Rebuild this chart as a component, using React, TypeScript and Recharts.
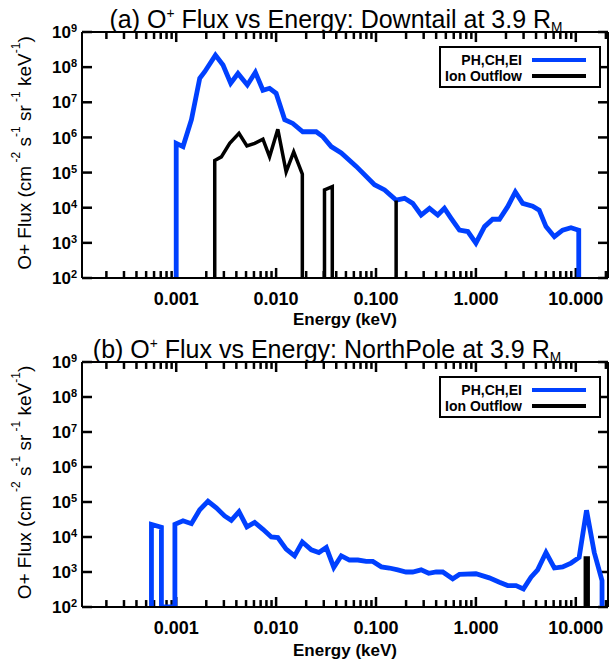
import { LineChart, Line, XAxis, YAxis, Legend, ReferenceLine } from 'recharts';

// ---------- DATA ----------

// (a) Downtail, PH,CH,EI
const downtailPhEnergy = [
  0.001, 0.001, 0.00117, 0.00142, 0.00172, 0.00193, 0.00247, 0.00294, 0.00351, 0.00415,
  0.00515, 0.0062, 0.00738, 0.0086, 0.01, 0.0122, 0.0147, 0.0185, 0.0252, 0.0294,
  0.0356, 0.0449, 0.0634, 0.0966, 0.122, 0.159, 0.193, 0.233, 0.283, 0.343,
  0.415, 0.484, 0.565, 0.684, 0.83, 1.0, 1.22, 1.47, 1.72, 2.08,
  2.48, 2.94, 3.7, 4.3, 5.03, 6.1, 7.38, 8.95, 10.7, 10.7
];
const downtailPhFlux = [
  100, 6.8e5, 5.5e5, 3.2e6, 4.8e7, 7.4e7, 2.2e8, 1.15e8, 3.5e7, 6.6e7,
  3.1e7, 7.1e7, 2.2e7, 2.5e7, 1.8e7, 3.2e6, 2.5e6, 1.45e6, 1.45e6, 1.05e6,
  5.5e5, 3.6e5, 1.5e5, 4.5e4, 3.2e4, 1.65e4, 1.85e4, 1.33e4, 6.2e3, 9.6e3,
  6.2e3, 9.6e3, 5.0e3, 2.3e3, 2.1e3, 980, 2.9e3, 4.7e3, 4.7e3, 1.07e4,
  2.8e4, 1.33e4, 1.1e4, 8.5e3, 2.9e3, 1.5e3, 2.3e3, 2.7e3, 2.3e3, 100
];

// (a) Downtail, Ion Outflow (null = gap)
const downtailOutflowEnergy = [
  0.00243, 0.00243, 0.00283, 0.00343, 0.00425, 0.0051, 0.0061, 0.00738, 0.0086, 0.0104,
  0.0126, 0.015, 0.0183, 0.0183, 0.025, 0.0305, 0.0305, 0.0365, 0.0365, 0.1,
  0.159, 0.159
];
const downtailOutflowFlux = [
  100, 2.2e5, 2.8e5, 6.8e5, 1.3e6, 5.7e5, 6.8e5, 8.9e5, 2.8e5, 1.7e6,
  1.05e5, 3.9e5, 9.1e4, 100, null, 100, 3.2e4, 4.0e4, 100, null,
  100, 1.6e4
];

// (b) NorthPole, PH,CH,EI
const northPhEnergy = [
  0.000565, 0.000565, 0.000711, 0.000711, 0.00097, 0.00097, 0.00117, 0.00142, 0.00172, 0.00208,
  0.00252, 0.00305, 0.00356, 0.00425, 0.0051, 0.0061, 0.00738, 0.00895, 0.0104, 0.0126,
  0.0153, 0.0183, 0.0225, 0.0268, 0.0318, 0.0378, 0.0449, 0.0543, 0.0658, 0.0798,
  0.0929, 0.113, 0.136, 0.165, 0.2, 0.233, 0.283, 0.337, 0.4, 0.466,
  0.586, 0.684, 1.0, 1.36, 1.72, 2.08, 2.52, 2.99, 3.56, 4.15,
  5.03, 6.1, 7.38, 8.95, 10.8, 12.8, 15.3, 18.3, 18.3
];
const northPhFlux = [
  100, 2.3e4, 1.9e4, 100, 100, 2.3e4, 2.9e4, 2.4e4, 6.0e4, 1.05e5,
  6.8e4, 4.0e4, 3.0e4, 5.3e4, 1.95e4, 2.6e4, 1.66e4, 1.0e4, 9.6e3, 4.5e3,
  2.9e3, 7.2e3, 4.3e3, 3.6e3, 5.0e3, 1.35e3, 2.9e3, 2.2e3, 2.2e3, 2.0e3,
  2.0e3, 1.4e3, 1.3e3, 1.15e3, 1.0e3, 1.0e3, 1.15e3, 920, 1.0e3, 1.0e3,
  640, 850, 890, 680, 510, 410, 410, 330, 710, 1.15e3,
  3.6e3, 1.3e3, 1.4e3, 1.8e3, 2.6e3, 5.8e4, 3.6e3, 570, 100
];

// (b) NorthPole, Ion Outflow
const northOutflowEnergy = [12.45, 12.45, 13.3, 13.3];
const northOutflowFlux = [100, 2.5e3, 2.5e3, 100];

const seriesNames = ['PH,CH,EI', 'Ion Outflow'];

// ---------- AXES ----------

const xTicks = [0.001, 0.01, 0.1, 1, 10];
const xMinorTicks = [0.0001, 0.001, 0.01, 0.1, 1, 10]
  .flatMap((d) => [2, 3, 4, 5, 6, 7, 8, 9].map((m) => m * d))
  .filter((v) => v > 0.000114 && v < 21);
const yTicks = [1e2, 1e3, 1e4, 1e5, 1e6, 1e7, 1e8, 1e9];

const X_DOMAIN: [number, number] = [0.000114, 21];
const Y_DOMAIN: [number, number] = [100, 1e9];

// inward tick lengths as log-scale factors (~10px major, ~7px minor)
const Y_MAJOR_LEN = 1.93;
const Y_MINOR_LEN = 1.58;
const X_MAJOR_LEN = 1.26;

const FONT = '"Liberation Sans", Arial, sans-serif';
const BLUE = '#0040ff';

const toRows = (energy: number[], flux: (number | null)[]) =>
  energy.map((e, i) => ({ energy: e, flux: flux[i] }));

// ---------- PIECES ----------

function EnergyLabel({ x, y, payload }: any) {
  return (
    <text x={x} y={y + 26.5} textAnchor="middle" fontFamily={FONT} fontWeight="bold" fontSize={18} fill="#000">
      {payload.value.toFixed(3)}
    </text>
  );
}

function PowerLabel({ x, y, payload }: any) {
  return (
    <text x={x - 5} y={y} textAnchor="end" fontFamily={FONT} fontWeight="bold" fontSize={17} fill="#000">
      <tspan dy="0.36em">10</tspan>
      <tspan dy="-0.55em" fontSize={11}>{Math.round(Math.log10(payload.value))}</tspan>
    </text>
  );
}

function FluxLabel({ viewBox }: any) {
  const cx = viewBox.x - 57;
  const cy = viewBox.y + viewBox.height / 2 - 2;
  return (
    <text
      x={cx}
      y={cy}
      transform={`rotate(-90, ${cx}, ${cy})`}
      textAnchor="middle"
      dominantBaseline="central"
      fontFamily={FONT}
      fontSize={19}
      fill="#000"
    >
      O+ Flux (cm
      <tspan dy={-8} fontSize={12}> -2</tspan>
      <tspan dy={8}>  s</tspan>
      <tspan dy={-8} fontSize={12}>-1</tspan>
      <tspan dy={8}>  sr</tspan>
      <tspan dy={-8} fontSize={12}> -1</tspan>
      <tspan dy={8}>  keV</tspan>
      <tspan dy={-8} fontSize={12}>-1</tspan>
      <tspan dy={8}>)</tspan>
    </text>
  );
}

function LegendBox({ payload }: any) {
  const items = [...(payload || [])].sort(
    (a: any, b: any) => seriesNames.indexOf(a.value) - seriesNames.indexOf(b.value)
  );
  return (
    <div
      style={{
        width: 162,
        height: 42,
        boxSizing: 'border-box',
        border: '2px solid #000',
        background: '#fff',
        padding: '4px 13px 0 0',
        fontFamily: FONT,
        fontWeight: 'bold',
        fontSize: 14
      }}
    >
      {items.map((entry: any) => (
        <div
          key={entry.value}
          style={{
            display: 'flex',
            alignItems: 'center',
            justifyContent: 'flex-end',
            height: 16
          }}
        >
          <span>{entry.value}</span>
          <span style={{ width: 54, height: 4, background: entry.color, marginLeft: 10 }} />
        </div>
      ))}
    </div>
  );
}

type PanelProps = {
  top: number;
  height: number;
  plotBottom: number;
  titleCenter: number;
  label: string;
  place: string;
  phData: { energy: number; flux: number | null }[];
  outflowData: { energy: number; flux: number | null }[];
  energyOffset: number;
};

const PLOT_TOP = 32;

function FluxPanel({
  top,
  height,
  plotBottom,
  titleCenter,
  label,
  place,
  phData,
  outflowData,
  energyOffset
}: PanelProps) {
  const axisStroke = { stroke: '#000', strokeWidth: 2 };
  const small = { fontSize: '0.55em', lineHeight: 0, position: 'relative' as const, verticalAlign: 'baseline' };
  const tickLine = { xAxisId: 'energy', yAxisId: 'flux', stroke: '#000', strokeWidth: 2.5, ifOverflow: 'visible' as const };

  const fluxAxis = {
    type: 'number' as const,
    scale: 'log' as const,
    domain: Y_DOMAIN,
    allowDataOverflow: true,
    ticks: yTicks,
    width: 1,
    tickSize: 0,
    tickMargin: 0,
    tickLine: false,
    interval: 0 as const,
    axisLine: axisStroke
  };

  const [yMin, yMax] = Y_DOMAIN;
  const [xMin, xMax] = X_DOMAIN;

  return (
    <div style={{ position: 'absolute', left: 0, top, width: 610, height }}>
      <div
        style={{
          position: 'absolute',
          left: titleCenter,
          top: 7,
          transform: 'translateX(-50%)',
          whiteSpace: 'nowrap',
          fontFamily: FONT,
          fontSize: 25,
          lineHeight: '25px',
          zIndex: 2
        }}
      >
        {label} O<span style={{ ...small, top: -10 }}>+</span> Flux vs Energy: {place} at 3.9 R
        <span style={{ ...small, top: 4 }}>M</span>
      </div>

      <LineChart
        width={610}
        height={height}
        margin={{ top: PLOT_TOP - 1, right: 1, bottom: height - plotBottom - 1, left: 81 }}
      >
        <XAxis
          xAxisId="energy"
          dataKey="energy"
          type="number"
          scale="log"
          domain={X_DOMAIN}
          allowDataOverflow
          ticks={xTicks}
          interval={0}
          height={1}
          tickSize={0}
          tickMargin={0}
          tickLine={false}
          axisLine={axisStroke}
          tick={<EnergyLabel />}
          label={{
            value: 'Energy (keV)',
            position: 'bottom',
            offset: energyOffset,
            fill: '#000',
            fontSize: 17,
            fontWeight: 'bold',
            fontFamily: FONT
          }}
        />
        <XAxis
          xAxisId="topEdge"
          orientation="top"
          type="number"
          scale="log"
          domain={X_DOMAIN}
          allowDataOverflow
          height={1}
          tick={false}
          tickLine={false}
          axisLine={axisStroke}
        />

        <YAxis {...fluxAxis} yAxisId="flux" tick={<PowerLabel />} label={<FluxLabel />} />
        <YAxis {...fluxAxis} yAxisId="right" orientation="right" tick={false} />

        {/* inward ticks on the bottom and top edges */}
        {xTicks.map((v) => (
          <ReferenceLine key={`xb${v}`} {...tickLine} segment={[{ x: v, y: yMin }, { x: v, y: yMin * Y_MAJOR_LEN }]} />
        ))}
        {xTicks.map((v) => (
          <ReferenceLine key={`xt${v}`} {...tickLine} segment={[{ x: v, y: yMax }, { x: v, y: yMax / Y_MAJOR_LEN }]} />
        ))}
        {xMinorTicks.map((v) => (
          <ReferenceLine key={`mb${v}`} {...tickLine} segment={[{ x: v, y: yMin }, { x: v, y: yMin * Y_MINOR_LEN }]} />
        ))}
        {xMinorTicks.map((v) => (
          <ReferenceLine key={`mt${v}`} {...tickLine} segment={[{ x: v, y: yMax }, { x: v, y: yMax / Y_MINOR_LEN }]} />
        ))}

        {/* inward ticks on the left and right edges */}
        {yTicks.map((v) => (
          <ReferenceLine key={`yl${v}`} {...tickLine} segment={[{ x: xMin, y: v }, { x: xMin * X_MAJOR_LEN, y: v }]} />
        ))}
        {yTicks.map((v) => (
          <ReferenceLine key={`yr${v}`} {...tickLine} segment={[{ x: xMax, y: v }, { x: xMax / X_MAJOR_LEN, y: v }]} />
        ))}

        <Legend
          content={<LegendBox />}
          layout="vertical"
          align="center"
          verticalAlign="middle"
          wrapperStyle={{ left: 439, top: 46, width: 162, height: 42 }}
        />

        <Line
          data={phData}
          xAxisId="energy"
          yAxisId="flux"
          dataKey="flux"
          name={seriesNames[0]}
          stroke={BLUE}
          strokeWidth={4.8}
          dot={false}
          activeDot={false}
          isAnimationActive={false}
        />
        <Line
          data={outflowData}
          xAxisId="energy"
          yAxisId="flux"
          dataKey="flux"
          name={seriesNames[1]}
          stroke="#000"
          strokeWidth={3.5}
          dot={false}
          activeDot={false}
          isAnimationActive={false}
        />
      </LineChart>
    </div>
  );
}

export default function App() {
  return (
    <div style={{ position: 'absolute', left: 0, top: 0, width: 610, height: 664, background: '#fff' }}>
      <FluxPanel
        top={0}
        height={330}
        plotBottom={278}
        titleCenter={336}
        label="(a)"
        place="Downtail"
        phData={toRows(downtailPhEnergy, downtailPhFlux)}
        outflowData={toRows(downtailOutflowEnergy, downtailOutflowFlux)}
        energyOffset={34}
      />
      <FluxPanel
        top={330}
        height={334}
        plotBottom={277}
        titleCenter={327}
        label="(b)"
        place="NorthPole"
        phData={toRows(northPhEnergy, northPhFlux)}
        outflowData={toRows(northOutflowEnergy, northOutflowFlux)}
        energyOffset={36}
      />
    </div>
  );
}
